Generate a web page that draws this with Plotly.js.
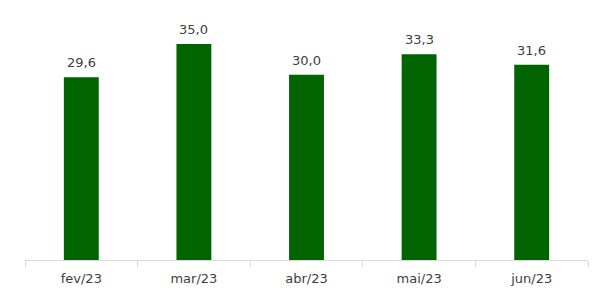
<!DOCTYPE html>
<html>
<head>
<meta charset="utf-8">
<script src="https://cdn.plot.ly/plotly-3.0.1.min.js"></script>
<style>html,body{margin:0;padding:0;background:#fff;}#chart{width:610px;height:300px;}</style>
</head>
<body>
<div id="chart"></div>
<script>
const categories = ["fev/23", "mar/23", "abr/23", "mai/23", "jun/23"];
const values = [29.6, 35.0, 30.0, 33.3, 31.6];

const FONT = "'DejaVu Sans', Lato, sans-serif";

const trace = {
  type: "bar",
  x: categories,
  y: values,
  marker: {color: "#006400", line: {width: 0}},
  hoverinfo: "none"
};

const annotations = categories.map((c, i) => ({
  x: c, y: values[i], xref: "x", yref: "y",
  text: values[i].toFixed(1).replace(".", ","),
  showarrow: false, yanchor: "bottom", yshift: 5,
  font: {family: FONT, size: 13, color: "#404040"}
}));

const layout = {
  width: 610, height: 300,
  margin: {l: 25, r: 22, t: 13, b: 40},
  paper_bgcolor: "#fff", plot_bgcolor: "#fff",
  separators: ",.",
  bargap: 0.69,
  showlegend: false,
  font: {family: FONT, size: 13, color: "#404040"},
  annotations: annotations,
  xaxis: {
    type: "category",
    showline: true, linecolor: "#d9d9d9", linewidth: 1,
    ticks: "outside", tickson: "boundaries", ticklen: 6, tickcolor: "#d9d9d9",
    ticklabelstandoff: 6,
    showgrid: false, zeroline: false,
    tickfont: {family: FONT, size: 13, color: "#404040"}
  },
  yaxis: {
    range: [0, 40], visible: false, showgrid: false, zeroline: false
  }
};

Plotly.newPlot("chart", [trace], layout, {displayModeBar: false, staticPlot: true});
</script>
</body>
</html>
